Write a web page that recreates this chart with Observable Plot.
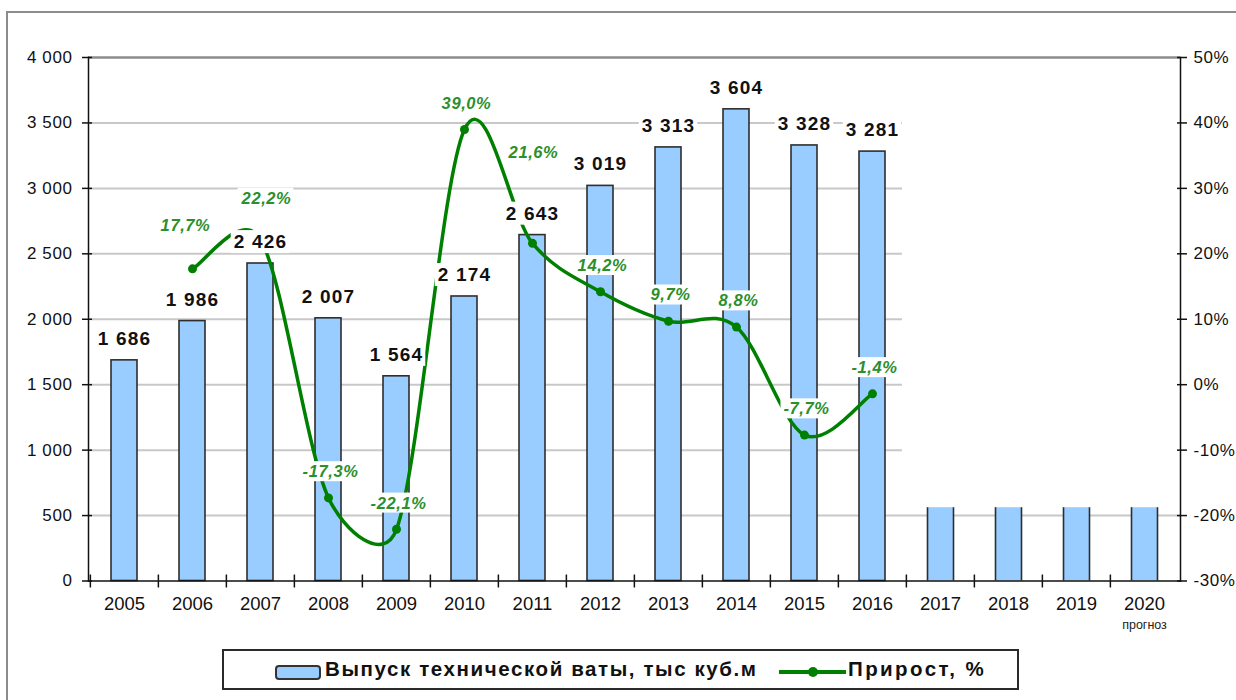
<!DOCTYPE html>
<html>
<head>
<meta charset="utf-8">
<script src="https://cdn.jsdelivr.net/npm/d3@7"></script>
<script src="https://cdn.jsdelivr.net/npm/@observablehq/plot@0.6"></script>
<style>
  html, body { margin: 0; padding: 0; background: #fff; }
  body { width: 1236px; height: 700px; position: relative; overflow: hidden;
         font-family: "Liberation Sans", Arial, sans-serif; }
  #frame { position: absolute; left: 6px; top: 11px; width: 1400px; height: 900px;
           border: 2px solid #8c8c8c; box-sizing: border-box; }
  #chart { position: absolute; left: 0; top: 0; }
  #legend { position: absolute; left: 222px; top: 649px; width: 797px; height: 41px;
            border: 2px solid #2a2a2a; box-sizing: border-box; background: #fff; }
  #legend span { position: absolute; top: 6px; font-weight: bold; font-size: 20.5px;
                 letter-spacing: 1.6px; color: #111; white-space: nowrap; line-height: 24px; }
  #lg2 { letter-spacing: 2.4px !important; }
</style>
</head>
<body>
<div id="frame"></div>
<div id="chart"></div>
<div id="legend">
  <svg width="793" height="37" style="position:absolute;left:0;top:0">
    <rect x="52" y="15" width="44" height="13" rx="3" fill="#99ccff" stroke="#333" stroke-width="2"></rect>
    <line x1="555" x2="622" y1="21" y2="21" stroke="#008000" stroke-width="4"></line>
    <circle cx="589" cy="21" r="5" fill="#008000"></circle>
  </svg>
  <span id="lg1" style="left:101px">Выпуск технической ваты, тыс куб.м</span>
  <span id="lg2" style="left:624px">Прирост, %</span>
</div>
<script>
// ---- data ----
const years = ["2005","2006","2007","2008","2009","2010","2011","2012","2013","2014","2015","2016","2017","2018","2019","2020"];
const historyYears = ["2005","2006","2007","2008","2009","2010","2011","2012","2013","2014","2015","2016"];
const output = [1686, 1986, 2426, 2007, 1564, 2174, 2643, 3019, 3313, 3604, 3328, 3281];
const forecastYears = ["2017","2018","2019","2020"];
const forecastVisible = [560, 560, 560, 560];
const growthYears = ["2006","2007","2008","2009","2010","2011","2012","2013","2014","2015","2016"];
const growth = [17.7, 22.2, -17.3, -22.1, 39.0, 21.6, 14.2, 9.7, 8.8, -7.7, -1.4];
const leftTicks = [0, 500, 1000, 1500, 2000, 2500, 3000, 3500, 4000];
const rightTicks = [-30, -20, -10, 0, 10, 20, 30, 40, 50];
const forecastNote = "прогноз";

// ---- helpers ----
const FONT = '"Liberation Sans", Arial, sans-serif';
const leftMax = leftTicks[leftTicks.length - 1];
const pMin = rightTicks[0], pMax = rightTicks[rightTicks.length - 1];
const yOfPct = p => (p - pMin) / (pMax - pMin) * leftMax;
const fmtThousands = v => d3.format(",")(v).replace(/,/g, " ");
const fmtPct = p => p.toFixed(1).replace(".", ",") + "%";
const rightLabel = v => rightTicks[leftTicks.indexOf(v)] + "%";

const hist = historyYears.map((year, i) => ({year, v: output[i]}));
const fc = forecastYears.map((year, i) => ({year, v: forecastVisible[i]}));
const gr = growthYears.map((year, i) => ({year, p: growth[i], y: yOfPct(growth[i])}));

// Spreadsheet-style smoothed line: Bezier with (P[i+1]-P[i-1])/6 tangents,
// control arms limited to half of the segment length.
function smoothCurve(context) {
  let pts;
  return {
    areaStart() {}, areaEnd() {},
    lineStart() { pts = []; },
    point(x, y) { pts.push([+x, +y]); },
    lineEnd() {
      const n = pts.length;
      if (!n) return;
      context.moveTo(pts[0][0], pts[0][1]);
      for (let i = 0; i < n - 1; i++) {
        const p0 = pts[Math.max(i - 1, 0)], p1 = pts[i], p2 = pts[i + 1], p3 = pts[Math.min(i + 2, n - 1)];
        const half = Math.hypot(p2[0] - p1[0], p2[1] - p1[1]) / 2;
        let ax = (p2[0] - p0[0]) / 6, ay = (p2[1] - p0[1]) / 6;
        let bx = (p3[0] - p1[0]) / 6, by = (p3[1] - p1[1]) / 6;
        const la = Math.hypot(ax, ay), lb = Math.hypot(bx, by);
        if (la > half) { ax *= half / la; ay *= half / la; }
        if (lb > half) { bx *= half / lb; by *= half / lb; }
        context.bezierCurveTo(p1[0] + ax, p1[1] + ay, p2[0] - bx, p2[1] - by, p2[0], p2[1]);
      }
    }
  };
}

const GREEN = "#008000";
const LABEL_GREEN = "#2b8f2b";
const BAR = "#99ccff";
const OUTLINE = "#2e2e2e";
const GRID = "#c8c8c8";
const BAND = (1180 - 88) / years.length;

const pctText = (filter, dx, dy) => Plot.text(gr, {
  filter, x: "year", y: "y", text: d => fmtPct(d.p), dx, dy,
  fontSize: 16.5, fontWeight: "bold", fontStyle: "italic", fill: LABEL_GREEN
});
const special = ["2006", "2007", "2011"];

const chart = Plot.plot({
  width: 1236, height: 640,
  marginLeft: 88, marginRight: 56, marginTop: 57, marginBottom: 59.5,
  style: {background: "transparent", fontFamily: FONT, overflow: "visible", color: "#111"},
  x: {type: "band", domain: years, padding: 0, axis: null, label: null},
  y: {domain: [0, leftMax], axis: null, label: null},
  marks: [
    Plot.ruleY(leftTicks.filter(v => v > 500 && v < leftMax),
      {x1: () => historyYears[0], x2: () => historyYears[historyYears.length - 1], stroke: GRID, strokeWidth: 2, insetRight: 4}),
    Plot.ruleY([500], {stroke: GRID, strokeWidth: 2}),
    Plot.ruleY([leftMax], {stroke: "#8c8c8c", strokeWidth: 2.5}),
    Plot.barY(fc, {x: "year", y: "v", fill: BAR, insetLeft: 21, insetRight: 21}),
    Plot.ruleX(fc, {x: "year", y1: 0, y2: "v", dx: -13, stroke: OUTLINE, strokeWidth: 1.6}),
    Plot.ruleX(fc, {x: "year", y1: 0, y2: "v", dx: 13, stroke: OUTLINE, strokeWidth: 1.6}),
    Plot.barY(hist, {x: "year", y: "v", fill: BAR, stroke: OUTLINE, strokeWidth: 1.6, insetLeft: 21, insetRight: 21}),
    Plot.frame({anchor: "left", stroke: "#111", strokeWidth: 1.5}),
    Plot.frame({anchor: "right", stroke: "#111", strokeWidth: 1.5}),
    Plot.frame({anchor: "bottom", stroke: "#111", strokeWidth: 1.5}),
    Plot.axisY(leftTicks, {anchor: "left", tickSize: 6, tickPadding: 10, fontSize: 17, tickFormat: fmtThousands, label: null, strokeWidth: 1.5}),
    Plot.axisY(leftTicks, {anchor: "left", tickSize: -4, tickFormat: () => "", label: null, strokeWidth: 1.5}),
    Plot.axisY(leftTicks, {anchor: "right", tickSize: 6, tickPadding: 7, fontSize: 17, tickFormat: rightLabel, label: null, strokeWidth: 1.5}),
    Plot.axisY(leftTicks, {anchor: "right", tickSize: -4, tickFormat: () => "", label: null, strokeWidth: 1.5}),
    Plot.axisX({tickSize: 0, tickPadding: 16, fontSize: 18.5, label: null}),
    Plot.axisX({tickSize: 7, dx: -BAND / 2, tickFormat: () => "", label: null, strokeWidth: 1.5}),
    Plot.axisX({tickSize: -6, dx: -BAND / 2, tickFormat: () => "", label: null, strokeWidth: 1.5}),
    Plot.text([forecastNote], {x: () => years[years.length - 1], frameAnchor: "bottom", dy: 48, fontSize: 12.5, fill: "#222"}),
    Plot.line(gr, {x: "year", y: "y", curve: smoothCurve, stroke: GREEN, strokeWidth: 3.5}),
    Plot.dot(gr, {x: "year", y: "y", r: 4.5, fill: GREEN}),
    Plot.text(hist, {x: "year", y: "v", text: d => fmtThousands(d.v), dy: -21.5,
      fontSize: 19, fontWeight: "bold", fill: "#111"}),
    pctText(d => !special.includes(d.year), 2, -26),
    pctText(d => d.year === "2006", -7, -43),
    pctText(d => d.year === "2007", 6, -41),
    pctText(d => d.year === "2011", 1, -91)
  ]
});
document.getElementById("chart").appendChild(chart);

// Style the data labels: wider spacing and opaque white label boxes
const isBarLabel = s => /^\d \d{3}$/.test(s);
const isPctLabel = s => /^-?\d+,\d%$/.test(s);
const labelTexts = [];
chart.querySelectorAll('g[aria-label="text"] text').forEach(t => {
  const s = t.textContent;
  if (isBarLabel(s)) { t.style.letterSpacing = "1.2px"; labelTexts.push(t); }
  else if (isPctLabel(s)) { t.style.letterSpacing = "0.6px"; labelTexts.push(t); }
});
chart.querySelectorAll('g[aria-label="y-axis tick label"] text').forEach(t => { t.style.letterSpacing = "0.6px"; });
labelTexts.forEach(t => {
  const b = t.getBBox();
  const r = document.createElementNS("http://www.w3.org/2000/svg", "rect");
  r.setAttribute("x", b.x - 3);
  r.setAttribute("y", b.y - 1);
  r.setAttribute("width", b.width + 5);
  r.setAttribute("height", b.height + 2);
  r.setAttribute("fill", "white");
  r.setAttribute("stroke", "none");
  const tr = t.getAttribute("transform");
  if (tr) r.setAttribute("transform", tr);
  t.parentNode.insertBefore(r, t);
});
</script>
</body>
</html>
